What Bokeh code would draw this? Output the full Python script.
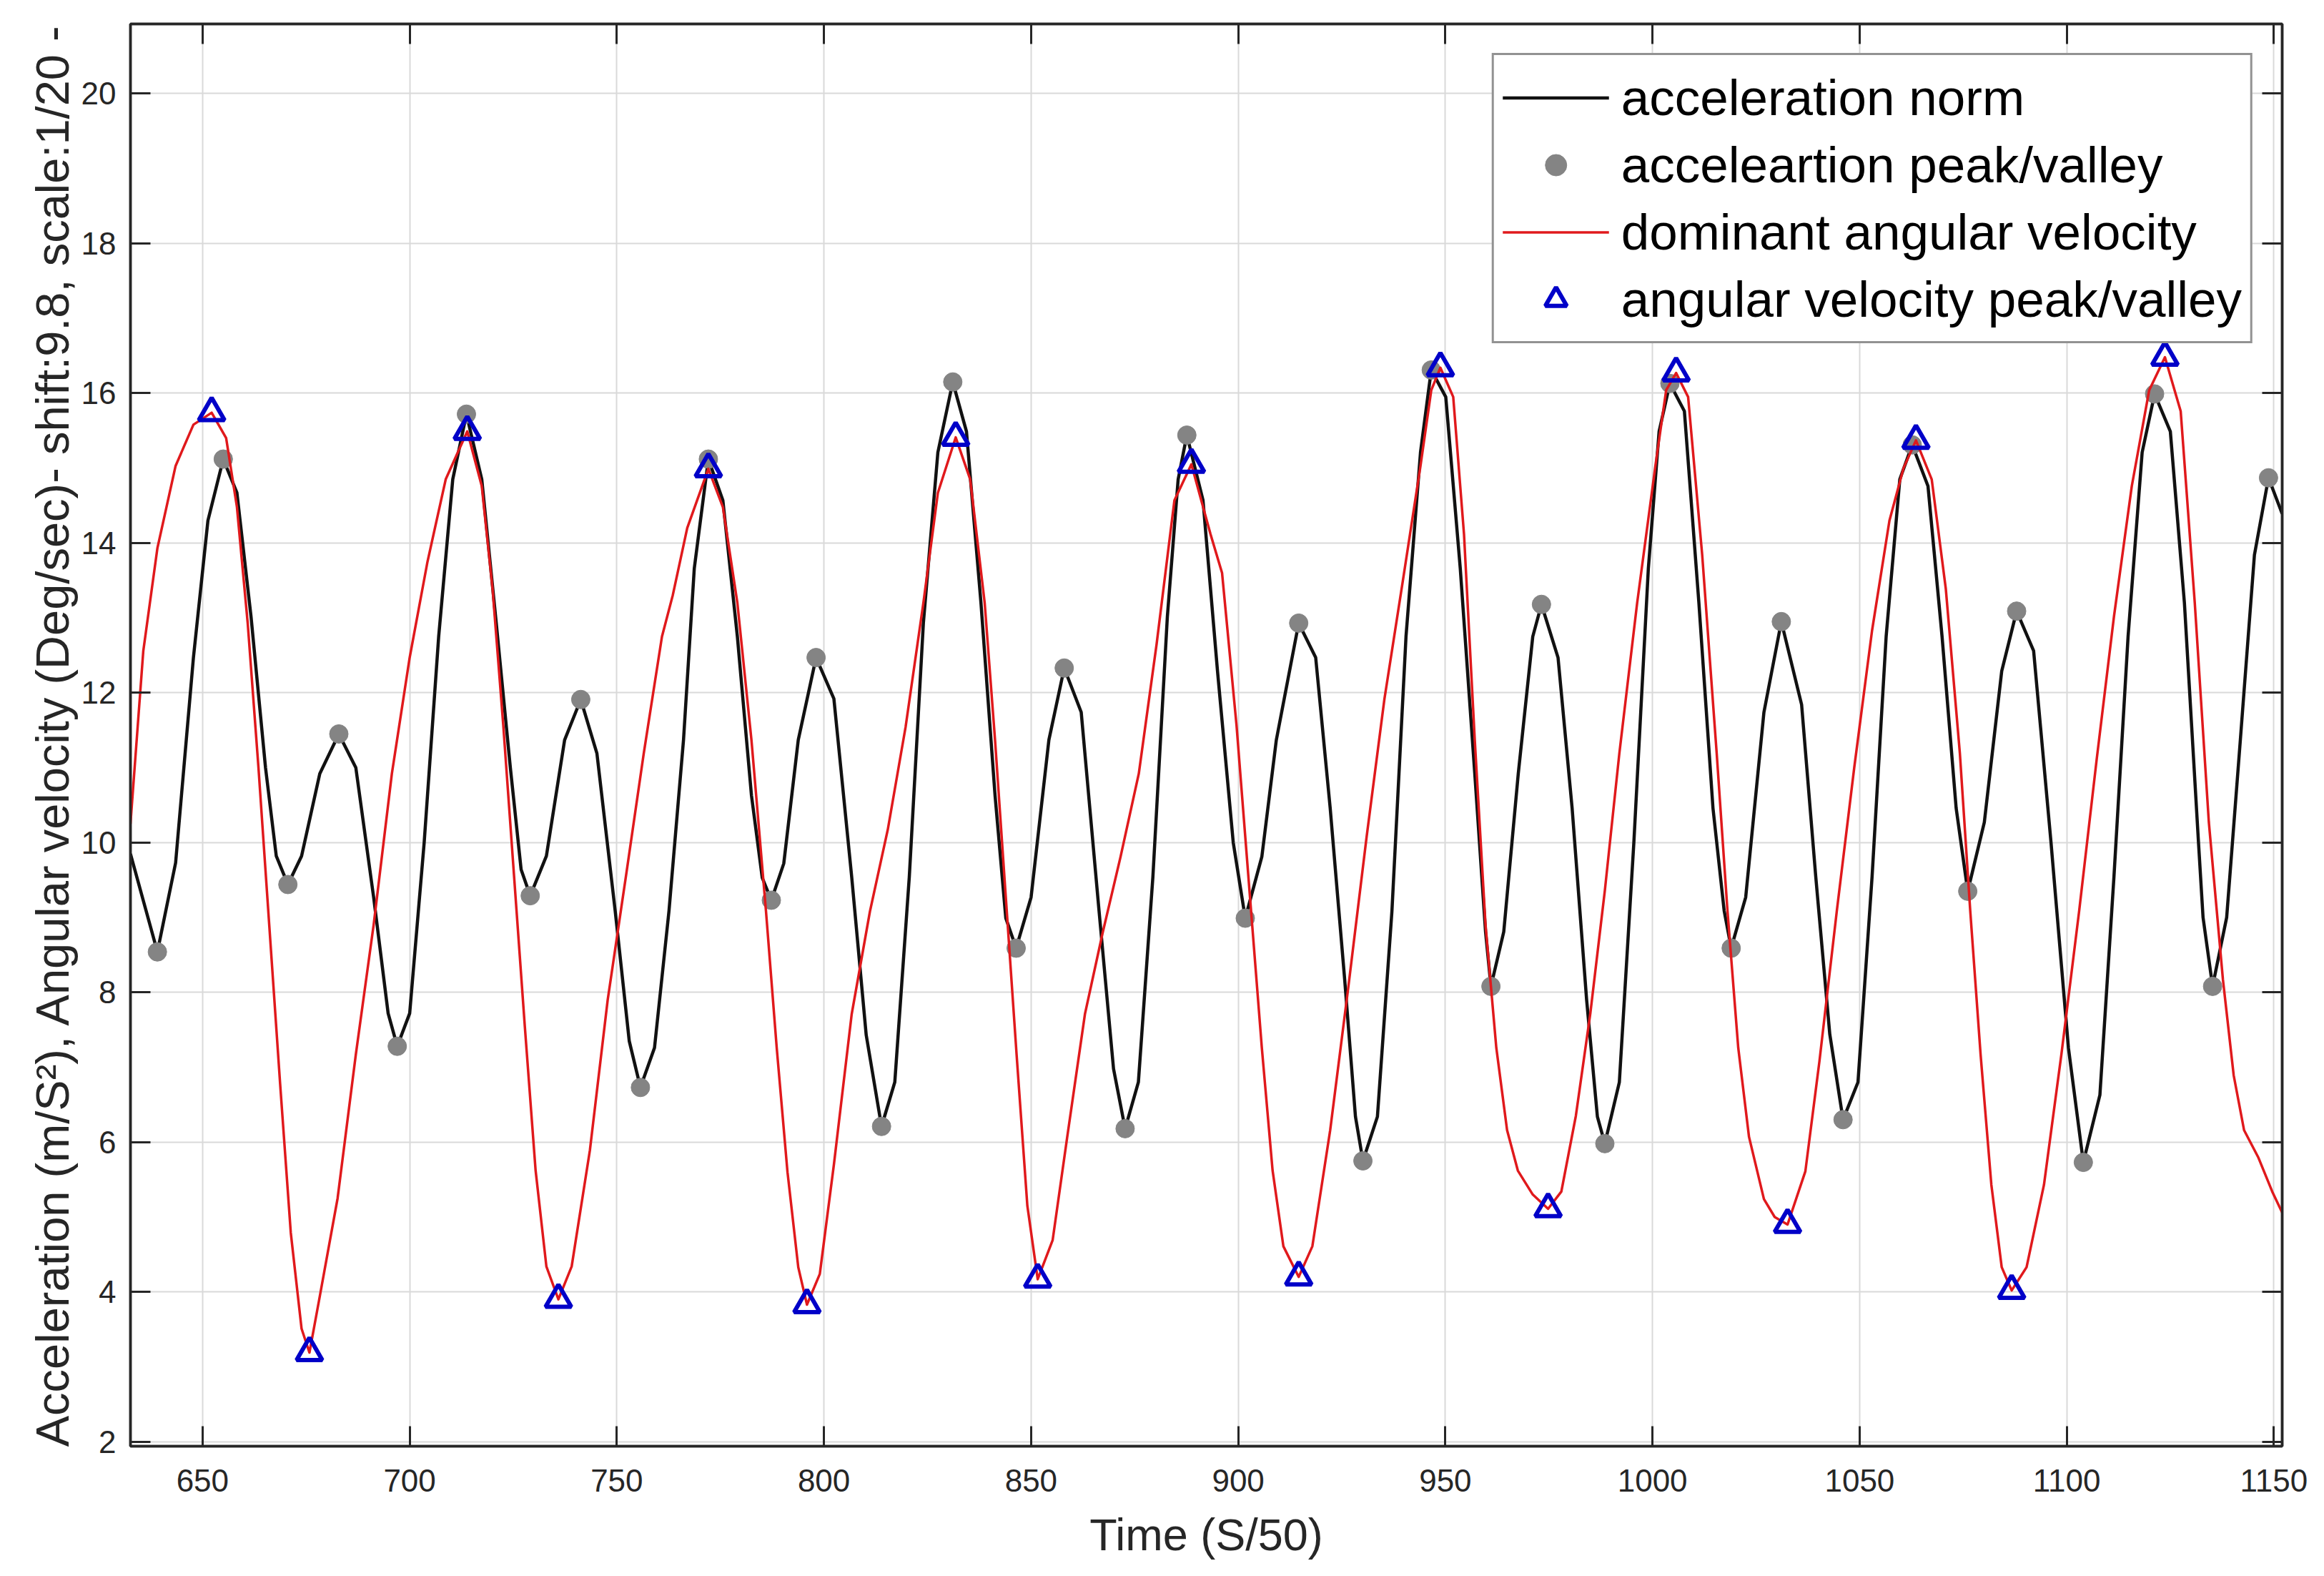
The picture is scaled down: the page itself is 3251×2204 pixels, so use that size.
from bokeh.plotting import figure
from bokeh.models import (Range1d, FixedTicker, LinearAxis, CustomJSTickFormatter,
                          Legend, LegendItem)
from bokeh.embed import file_html
from bokeh.resources import INLINE

# ---------------- data ----------------
x_ticks = [650, 700, 750, 800, 850, 900, 950, 1000, 1050, 1100, 1150]
y_ticks = [2, 4, 6, 8, 10, 12, 14, 16, 18, 20]

acc_time = [632.6, 639.1, 643.5, 647.8, 651.3, 655.0, 658.3, 661.7, 665.2, 667.8,
            670.6, 673.9, 678.3, 682.9, 687.0, 691.3, 694.8, 697.0, 700.0, 703.5,
            707.0, 710.4, 713.7, 717.4, 720.9, 724.3, 726.9, 729.1, 733.0, 737.4,
            741.3, 745.2, 749.6, 753.0, 755.7, 759.1, 762.6, 766.1, 768.7, 772.1,
            775.6, 779.1, 782.5, 785.1, 787.3, 790.3, 793.8, 798.1, 802.4, 806.7,
            810.2, 813.9, 817.1, 820.6, 824.0, 827.5, 831.1, 834.4, 837.9, 841.3,
            843.9, 846.4, 850.0, 854.3, 858.0, 862.1, 866.4, 869.9, 872.7, 875.9,
            879.4, 882.9, 885.5, 887.6, 891.5, 895.0, 898.8, 901.7, 905.7, 909.2,
            914.6, 918.7, 922.2, 925.7, 928.3, 930.1, 933.6, 937.1, 940.5, 944.0,
            946.6, 950.1, 953.6, 957.1, 959.7, 961.0, 964.1, 967.6, 971.1, 973.2,
            977.2, 980.6, 984.1, 986.7, 988.5, 992.0, 995.5, 999.0, 1001.6, 1004.2,
            1007.7, 1011.2, 1014.6, 1017.3, 1019.0, 1022.5, 1026.9, 1031.1, 1036.0, 1039.4,
            1042.8, 1046.0, 1049.6, 1053.0, 1056.4, 1059.7, 1062.7, 1066.5, 1069.9, 1073.3,
            1076.1, 1080.1, 1084.3, 1087.9, 1092.0, 1096.2, 1100.4, 1104.0, 1108.0, 1111.4,
            1114.8, 1118.2, 1121.2, 1125.0, 1128.4, 1131.8, 1132.9, 1135.2, 1138.6, 1141.9,
            1145.3, 1148.7, 1152.0]
acc_norm = [9.85, 8.54, 9.73, 12.47, 14.30, 15.12, 14.67, 13.02, 11.00, 9.82,
            9.44, 9.82, 10.92, 11.45, 11.00, 9.27, 7.72, 7.28, 7.72, 10.00,
            12.75, 14.85, 15.72, 14.85, 12.93, 11.00, 9.64, 9.29, 9.82, 11.37,
            11.91, 11.19, 9.09, 7.35, 6.73, 7.26, 9.09, 11.37, 13.66, 15.12,
            14.57, 12.75, 10.63, 9.53, 9.23, 9.72, 11.37, 12.47, 11.92, 9.54,
            7.43, 6.21, 6.80, 9.54, 12.93, 15.21, 16.15, 15.49, 13.20, 10.63,
            8.99, 8.59, 9.27, 11.37, 12.33, 11.74, 9.09, 6.98, 6.18, 6.80,
            9.54, 13.02, 14.85, 15.44, 14.57, 12.29, 10.00, 8.99, 9.81, 11.37,
            12.93, 12.47, 10.46, 8.17, 6.34, 5.75, 6.34, 9.08, 12.75, 15.21,
            16.31, 15.95, 13.66, 10.92, 8.81, 8.08, 8.81, 10.92, 12.75, 13.18,
            12.47, 10.46, 7.90, 6.34, 5.98, 6.80, 10.00, 13.66, 15.49, 16.13,
            15.76, 13.20, 10.46, 9.09, 8.59, 9.27, 11.74, 12.95, 11.84, 9.55,
            7.44, 6.30, 6.80, 9.54, 12.75, 14.85, 15.31, 14.76, 12.75, 10.46,
            9.35, 10.27, 12.29, 13.09, 12.56, 10.00, 7.26, 5.73, 6.63, 9.55,
            12.75, 15.21, 15.99, 15.49, 13.20, 10.00, 9.00, 8.08, 9.00, 11.37,
            13.84, 14.87, 14.39]

acc_pv_time = [639.1, 655.0, 670.6, 682.9, 697.0, 713.7, 729.1, 741.3, 755.7, 772.1,
               787.3, 798.1, 813.9, 831.1, 846.4, 858.0, 872.7, 887.6, 901.7, 914.6,
               930.1, 946.6, 961.0, 973.2, 988.5, 1004.2, 1019.0, 1031.1, 1046.0, 1062.7,
               1076.1, 1087.9, 1104.0, 1121.2, 1135.2, 1148.7]
acc_pv_value = [8.54, 15.12, 9.44, 11.45, 7.28, 15.72, 9.29, 11.91, 6.73, 15.12,
                9.23, 12.47, 6.21, 16.15, 8.59, 12.33, 6.18, 15.44, 8.99, 12.93,
                5.75, 16.31, 8.08, 13.18, 5.98, 16.13, 8.59, 12.95, 6.30, 15.31,
                9.35, 13.09, 5.73, 15.99, 8.08, 14.87]

gyro_time = [632.6, 635.7, 639.1, 643.5, 647.8, 652.2, 655.7, 658.3, 660.9, 663.5,
             666.1, 668.7, 671.3, 673.9, 675.8, 678.1, 682.6, 687.0, 691.3, 695.7,
             700.0, 704.3, 708.7, 713.9, 717.4, 720.0, 722.6, 725.2, 727.8, 730.4,
             733.0, 735.9, 739.1, 743.5, 747.8, 752.2, 756.5, 760.9, 763.5, 767.0,
             772.1, 775.6, 779.1, 782.5, 786.0, 788.6, 791.2, 793.8, 795.9, 799.0,
             802.4, 806.7, 811.1, 815.4, 819.7, 824.0, 827.5, 831.8, 835.3, 838.8,
             841.3, 843.9, 846.5, 849.1, 851.6, 855.2, 858.7, 863.0, 867.3, 871.6,
             876.0, 880.3, 884.6, 888.7, 893.3, 896.1, 899.6, 903.1, 905.7, 908.3,
             910.9, 914.6, 917.9, 922.2, 926.6, 931.0, 935.3, 939.7, 944.0, 946.6,
             948.8, 951.9, 954.5, 957.1, 959.7, 962.3, 964.9, 967.5, 971.1, 974.8,
             978.0, 981.5, 985.0, 988.5, 992.0, 996.3, 1000.7, 1003.3, 1005.7, 1008.6,
             1012.0, 1015.5, 1018.1, 1020.7, 1023.3, 1026.9, 1029.5, 1032.6, 1036.9, 1040.3,
             1044.5, 1048.7, 1053.0, 1057.2, 1060.6, 1063.6, 1067.4, 1070.8, 1074.2, 1076.7,
             1079.2, 1081.8, 1084.3, 1086.7, 1090.3, 1094.5, 1098.7, 1103.0, 1107.2, 1111.4,
             1115.7, 1119.9, 1123.7, 1127.5, 1130.9, 1134.3, 1137.7, 1140.3, 1142.8, 1146.2,
             1149.6, 1152.0]
gyro_value = [10.25, 12.56, 13.93, 15.03, 15.58, 15.74, 15.40, 14.48, 12.93, 11.00,
              8.90, 6.80, 4.79, 3.51, 3.19, 3.88, 5.25, 7.17, 8.90, 10.92,
              12.47, 13.75, 14.85, 15.49, 14.76, 13.39, 11.56, 9.55, 7.54, 5.62,
              4.34, 3.90, 4.34, 5.89, 7.90, 9.55, 11.19, 12.75, 13.30, 14.20,
              14.99, 14.48, 13.20, 11.37, 9.09, 7.26, 5.60, 4.33, 3.83, 4.24,
              5.70, 7.71, 9.08, 10.17, 11.54, 13.20, 14.67, 15.41, 14.85, 13.20,
              11.37, 9.27, 7.17, 5.15, 4.17, 4.69, 6.06, 7.71, 8.80, 9.81,
              10.92, 12.65, 14.57, 15.05, 14.12, 13.60, 11.56, 9.09, 7.26, 5.62,
              4.61, 4.20, 4.61, 6.16, 8.08, 10.08, 11.92, 13.48, 15.03, 16.04,
              16.34, 15.95, 14.12, 11.37, 8.90, 7.26, 6.16, 5.62, 5.30, 5.11,
              5.34, 6.35, 7.72, 9.36, 11.19, 13.20, 15.03, 16.04, 16.27, 15.95,
              13.84, 11.19, 9.09, 7.26, 6.07, 5.24, 5.00, 4.90, 5.61, 7.08,
              9.09, 11.00, 12.83, 14.30, 15.00, 15.37, 14.85, 13.39, 11.19, 9.09,
              7.17, 5.43, 4.33, 4.02, 4.33, 5.43, 7.17, 9.09, 11.10, 13.02,
              14.76, 16.04, 16.48, 15.76, 13.20, 10.27, 8.17, 6.89, 6.16, 5.80,
              5.34, 5.06]

gyro_pv_time = [652.2, 675.8, 713.9, 735.9, 772.1, 795.9, 831.8, 851.6, 888.7, 914.6,
                948.8, 974.8, 1005.7, 1032.6, 1063.6, 1086.7, 1123.7]
gyro_pv_value = [15.74, 3.19, 15.49, 3.90, 14.99, 3.83, 15.41, 4.17, 15.05, 4.20,
                 16.34, 5.11, 16.27, 4.90, 15.37, 4.02, 16.48]

legend_labels = ["acceleration norm", "acceleartion peak/valley",
                 "dominant angular velocity", "angular velocity peak/valley"]
x_title = "Time (S/50)"
y_title = "Acceleration (m/S\u00b2), Angular velocity (Deg/sec)- shift:9.8, scale:1/20 -"

# ---------------- styling ----------------
FONT = "Liberation Sans"
AX = "#262626"

p = figure(width=3251, height=2204, output_backend="svg", toolbar_location=None,
           x_range=Range1d(632.6, 1152.0), y_range=Range1d(1.94, 20.93),
           min_border_left=182, min_border_right=59, min_border_top=33,
           min_border_bottom=182, background_fill_color="white",
           border_fill_color="white")
p.outline_line_color = AX
p.outline_line_width = 3.5

xt = FixedTicker(ticks=x_ticks)
yt = FixedTicker(ticks=y_ticks)

bx = p.below[0]
ly = p.left[0]
for ax in (bx, ly):
    ax.major_tick_in = 28
    ax.major_tick_out = 0
    ax.minor_tick_line_color = None
    ax.major_tick_line_color = AX
    ax.major_tick_line_width = 3
    ax.axis_line_color = AX
    ax.axis_line_width = 3.5
    ax.major_label_text_font = FONT
    ax.major_label_text_font_size = "44px"
    ax.major_label_text_color = AX
    ax.axis_label_text_font = FONT
    ax.axis_label_text_font_style = "normal"
    ax.axis_label_text_color = AX
bx.ticker = xt
ly.ticker = yt
bx.axis_label = x_title
ly.axis_label = y_title
bx.axis_label_text_font_size = "63px"
ly.axis_label_text_font_size = "65px"
bx.major_label_standoff = 32
bx.axis_label_standoff = 22
ly.major_label_standoff = 20
ly.axis_label_standoff = 1

empty = CustomJSTickFormatter(code="return '';")
top_ax = LinearAxis(ticker=xt, formatter=empty)
right_ax = LinearAxis(ticker=yt, formatter=empty)
for ax in (top_ax, right_ax):
    ax.major_tick_in = 28
    ax.major_tick_out = 0
    ax.minor_tick_line_color = None
    ax.major_tick_line_color = AX
    ax.major_tick_line_width = 3
    ax.axis_line_color = AX
    ax.axis_line_width = 3.5
    ax.major_label_text_font_size = "1px"
    ax.major_label_standoff = 0
p.add_layout(top_ax, "above")
p.add_layout(right_ax, "right")

p.xgrid.ticker = xt
p.ygrid.ticker = yt
for g in (p.xgrid, p.ygrid):
    g.grid_line_color = "#d9d9d9"
    g.grid_line_width = 2

# ---------------- glyphs ----------------
r1 = p.line(acc_time, acc_norm, line_color="#111111", line_width=4.5,
            line_join="round")
r2 = p.scatter(acc_pv_time, acc_pv_value, marker="circle", size=26,
               fill_color="#848484", line_color="#848484")
r3 = p.line(gyro_time, gyro_value, line_color="#e0191c", line_width=3.5,
            line_join="round")
r4 = p.scatter(gyro_pv_time, gyro_pv_value, marker="triangle", size=36,
               fill_color=None, line_color="#0000c8", line_width=6)

legend = Legend(items=[LegendItem(label=legend_labels[0], renderers=[r1]),
                       LegendItem(label=legend_labels[1], renderers=[r2]),
                       LegendItem(label=legend_labels[2], renderers=[r3]),
                       LegendItem(label=legend_labels[3], renderers=[r4])],
                location="top_right")
legend.margin = 41
legend.padding = 12
legend.spacing = 0
legend.label_height = 94
legend.glyph_height = 75
legend.glyph_width = 149
legend.label_standoff = 17
legend.label_text_font = FONT
legend.label_text_font_size = "71px"
legend.label_text_color = "black"
legend.border_line_color = AX
legend.border_line_width = 3
legend.background_fill_color = "white"
legend.background_fill_alpha = 1.0
p.add_layout(legend)

open("out.html", "w").write(file_html(p, INLINE))
